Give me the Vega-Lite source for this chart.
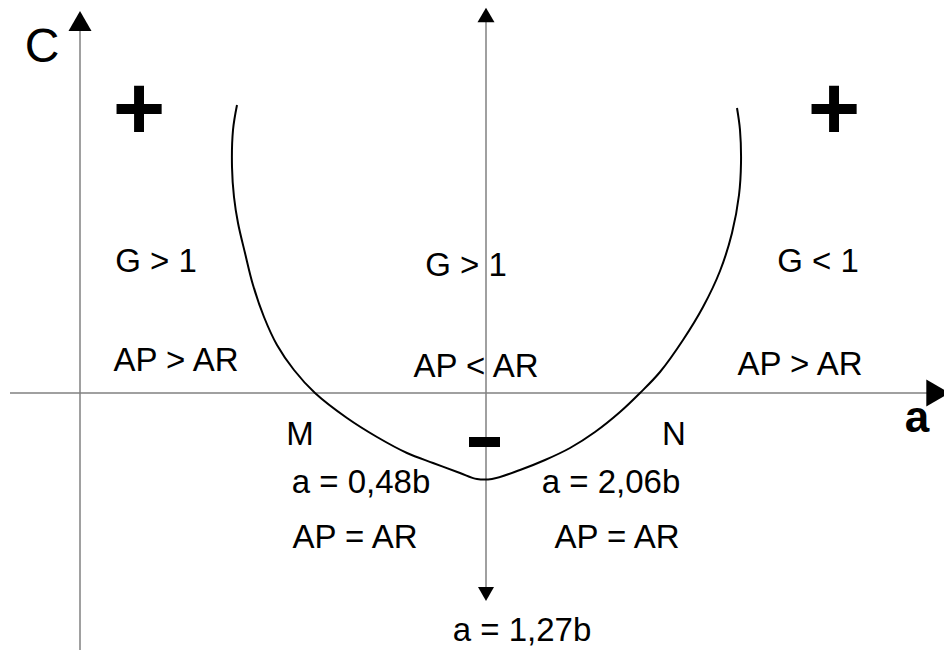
{
  "$schema": "https://vega.github.io/schema/vega-lite/v6.json",
  "autosize": "none",
  "width": 944,
  "height": 657,
  "padding": 0,
  "background": "white",
  "config": {"view": {"stroke": null}},
  "datasets": {
    "axes": [
      {"name": "C axis", "x": 80, "y": 629, "x2": 80, "y2": 7},
      {"name": "middle axis", "x": 486, "y": 637, "x2": 486, "y2": 67},
      {"name": "a axis", "x": 10, "y": 264, "x2": 932, "y2": 264}
    ],
    "arrows": [
      {"name": "C", "x": 80, "y": 636, "shape": "triangle-up", "size": 529},
      {"name": "mid top", "x": 486, "y": 642, "shape": "triangle-up", "size": 289},
      {"name": "mid bottom", "x": 486, "y": 63, "shape": "triangle-down", "size": 256},
      {"name": "a", "x": 938, "y": 264, "shape": "triangle-right", "size": 729}
    ],
    "curve": [
      {"o": 1, "x": 237, "y": 552}, {"o": 2, "x": 233, "y": 527}, {"o": 3, "x": 232, "y": 490},
      {"o": 4, "x": 234, "y": 460}, {"o": 5, "x": 238, "y": 434}, {"o": 6, "x": 245, "y": 404},
      {"o": 7, "x": 253, "y": 372}, {"o": 8, "x": 264, "y": 340}, {"o": 9, "x": 277, "y": 312},
      {"o": 10, "x": 294, "y": 287}, {"o": 11, "x": 315, "y": 264}, {"o": 12, "x": 347, "y": 239},
      {"o": 13, "x": 377, "y": 220}, {"o": 14, "x": 407, "y": 204}, {"o": 15, "x": 433, "y": 194},
      {"o": 16, "x": 460, "y": 184}, {"o": 17, "x": 477, "y": 178}, {"o": 18, "x": 492, "y": 178},
      {"o": 19, "x": 520, "y": 187}, {"o": 20, "x": 545, "y": 197}, {"o": 21, "x": 570, "y": 209},
      {"o": 22, "x": 595, "y": 225}, {"o": 23, "x": 620, "y": 245}, {"o": 24, "x": 640, "y": 264},
      {"o": 25, "x": 660, "y": 285}, {"o": 26, "x": 683, "y": 317}, {"o": 27, "x": 703, "y": 350},
      {"o": 28, "x": 720, "y": 386}, {"o": 29, "x": 732, "y": 424}, {"o": 30, "x": 739, "y": 462},
      {"o": 31, "x": 741, "y": 494}, {"o": 32, "x": 740, "y": 527}, {"o": 33, "x": 737, "y": 549}
    ],
    "minus": [
      {"x": 469, "x2": 500, "y": 220, "y2": 210}
    ],
    "labels": [
      {"text": "C", "x": 42, "y": 595, "size": 48},
      {"text": "G > 1", "x": 156, "y": 385, "size": 33},
      {"text": "AP > AR", "x": 176, "y": 286, "size": 33},
      {"text": "G > 1", "x": 466, "y": 381, "size": 33},
      {"text": "AP < AR", "x": 476, "y": 280, "size": 33},
      {"text": "G < 1", "x": 818, "y": 385, "size": 33},
      {"text": "AP > AR", "x": 800, "y": 282, "size": 33},
      {"text": "M", "x": 300, "y": 212, "size": 33},
      {"text": "N", "x": 674, "y": 212, "size": 33},
      {"text": "a = 0,48b", "x": 361, "y": 164, "size": 33},
      {"text": "a = 2,06b", "x": 611, "y": 164, "size": 33},
      {"text": "AP = AR", "x": 355, "y": 109, "size": 33},
      {"text": "AP = AR", "x": 617, "y": 109, "size": 33},
      {"text": "a = 1,27b", "x": 522, "y": 16, "size": 33}
    ],
    "boldLabels": [
      {"text": "+", "x": 139, "y": 518, "size": 90},
      {"text": "+", "x": 834, "y": 518, "size": 90},
      {"text": "a", "x": 917, "y": 225, "size": 44}
    ]
  },
  "encoding": {
    "x": {"field": "x", "type": "quantitative", "scale": {"domain": [0, 944], "nice": false, "zero": false}, "axis": null},
    "y": {"field": "y", "type": "quantitative", "scale": {"domain": [0, 657], "nice": false, "zero": false}, "axis": null}
  },
  "layer": [
    {
      "data": {"name": "axes"},
      "mark": {"type": "rule", "color": "#808080", "strokeWidth": 1.5},
      "encoding": {
        "x2": {"field": "x2"},
        "y2": {"field": "y2"}
      }
    },
    {
      "data": {"name": "curve"},
      "mark": {"type": "line", "color": "black", "strokeWidth": 2, "interpolate": "catmull-rom"},
      "encoding": {
        "order": {"field": "o", "type": "quantitative"}
      }
    },
    {
      "data": {"name": "arrows"},
      "mark": {"type": "point", "filled": true, "color": "black", "opacity": 1, "strokeWidth": 0},
      "encoding": {
        "shape": {"field": "shape", "type": "nominal", "scale": null},
        "size": {"field": "size", "type": "quantitative", "scale": null}
      }
    },
    {
      "data": {"name": "minus"},
      "mark": {"type": "rect", "color": "black"},
      "encoding": {
        "x2": {"field": "x2"},
        "y2": {"field": "y2"}
      }
    },
    {
      "data": {"name": "labels"},
      "mark": {"type": "text", "font": "Liberation Sans", "align": "center", "baseline": "alphabetic", "color": "black"},
      "encoding": {
        "text": {"field": "text", "type": "nominal"},
        "size": {"field": "size", "type": "quantitative", "scale": null}
      }
    },
    {
      "data": {"name": "boldLabels"},
      "mark": {"type": "text", "font": "Liberation Sans", "fontWeight": "bold", "align": "center", "baseline": "alphabetic", "color": "black"},
      "encoding": {
        "text": {"field": "text", "type": "nominal"},
        "size": {"field": "size", "type": "quantitative", "scale": null}
      }
    }
  ]
}
